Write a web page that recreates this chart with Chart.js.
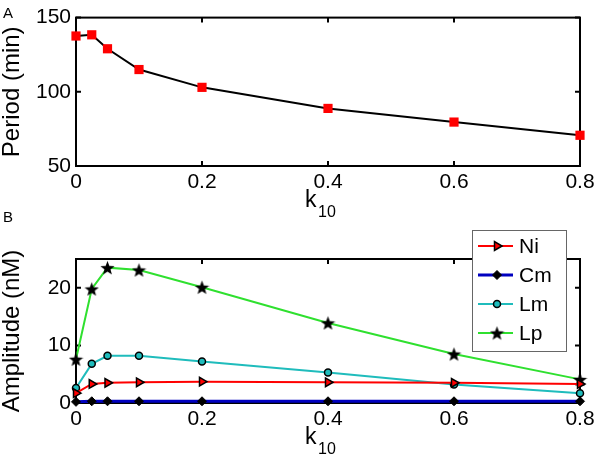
<!DOCTYPE html>
<html>
<head>
<meta charset="utf-8">
<script src="https://cdn.jsdelivr.net/npm/chart.js@4.4.1/dist/chart.umd.min.js"></script>
<style>
  html, body { margin: 0; padding: 0; background: #fff; }
  #wrapA { position: absolute; left: 0; top: 0; width: 600px; height: 225px; }
  #wrapB { position: absolute; left: 0; top: 200px; width: 600px; height: 263px; }
</style>
</head>
<body>
<div id="wrapA"><canvas id="chartA"></canvas></div>
<div id="wrapB"><canvas id="chartB"></canvas></div>
<script>
const k10 = [0, 0.025, 0.05, 0.1, 0.2, 0.4, 0.6, 0.8]
const period = [137.6, 138.4, 129, 115, 103, 88.8, 79.6, 70.7]
const ampNi = [1.7, 3.3, 3.5, 3.6, 3.7, 3.6, 3.5, 3.3]
const ampCm = [0.2, 0.3, 0.3, 0.3, 0.3, 0.3, 0.3, 0.3]
const ampLm = [2.6, 6.8, 8.2, 8.2, 7.2, 5.3, 3.2, 1.7]
const ampLp = [7.6, 19.8, 23.5, 23.1, 20.1, 13.9, 8.5, 4.1]
const seriesNames = ['Ni', 'Cm', 'Lm', 'Lp']
const xTicks = [0, 0.2, 0.4, 0.6, 0.8]
const periodTicks = [50, 100, 150]
const ampTicks = [0, 10, 20]

const FONT = 'Arial, "Liberation Sans", Helvetica, sans-serif'

// filled five point star, used as a point image
function makeStar(size) {
  const c = document.createElement('canvas')
  c.width = c.height = size
  const g = c.getContext('2d')
  const r = size / 2, ri = r * 0.42, cy = r + r * 0.1
  g.beginPath()
  for (let i = 0; i < 10; i++) {
    const ang = -Math.PI / 2 + i * Math.PI / 5
    const rr = i % 2 ? ri : r
    g.lineTo(r + rr * Math.cos(ang), cy + rr * Math.sin(ang))
  }
  g.closePath()
  g.fillStyle = '#000'
  g.fill()
  return c
}
const star = makeStar(15)

const pts = (ys) => k10.map((x, i) => ({ x: x, y: ys[i] }))

// box, inward ticks, k10 title, panel letter
const matlabAxes = {
  id: 'matlabAxes',
  beforeDatasetsDraw(chart) {
    const { ctx, chartArea: a, scales: { x, y } } = chart
    ctx.save()
    ctx.strokeStyle = '#000'
    ctx.lineWidth = 2
    ctx.strokeRect(a.left, a.top, a.right - a.left, a.bottom - a.top)
    ctx.beginPath()
    x.ticks.forEach(t => {
      const px = x.getPixelForValue(t.value)
      ctx.moveTo(px, a.bottom); ctx.lineTo(px, a.bottom - 5)
      ctx.moveTo(px, a.top); ctx.lineTo(px, a.top + 5)
    })
    y.ticks.forEach(t => {
      const py = y.getPixelForValue(t.value)
      ctx.moveTo(a.left, py); ctx.lineTo(a.left + 5, py)
      ctx.moveTo(a.right, py); ctx.lineTo(a.right - 5, py)
    })
    ctx.stroke()
    ctx.restore()
  },
  afterDraw(chart, args, opts) {
    const { ctx, chartArea: a } = chart
    ctx.save()
    ctx.fillStyle = '#000'
    ctx.textBaseline = 'alphabetic'
    ctx.textAlign = 'left'
    ctx.font = '23px ' + FONT
    ctx.fillText('k', 305, a.bottom + 41)
    ctx.font = '16px ' + FONT
    ctx.fillText('10', 318, a.bottom + 51)
    ctx.font = '15px ' + FONT
    ctx.fillText(opts.letter, 3, opts.letterY)
    ctx.restore()
  }
}

const boxLegend = {
  id: 'boxLegend',
  afterDraw(chart) {
    if (!chart.options.plugins.boxLegend.show) return
    const { ctx, chartArea: a } = chart
    const x0 = a.right - 108, y0 = a.top - 29, w = 94, h = 121
    ctx.save()
    ctx.fillStyle = '#fff'
    ctx.fillRect(x0, y0, w, h)
    ctx.strokeStyle = '#666'
    ctx.lineWidth = 1
    ctx.strokeRect(x0 + 0.5, y0 + 0.5, w, h)
    chart.data.datasets.forEach((ds, i) => {
      const cy = y0 + 16 + i * 29
      ctx.strokeStyle = ds.borderColor
      ctx.lineWidth = ds.borderWidth
      ctx.beginPath()
      ctx.moveTo(x0 + 6, cy); ctx.lineTo(x0 + 41, cy)
      ctx.stroke()
      ctx.fillStyle = ds.pointBackgroundColor
      ctx.strokeStyle = ds.pointBorderColor
      ctx.lineWidth = ds.pointBorderWidth
      Chart.helpers.drawPoint(ctx, {
        pointStyle: ds.pointStyle, radius: ds.pointRadius,
        rotation: ds.pointRotation || 0, borderWidth: ds.pointBorderWidth
      }, x0 + 25, cy)
      ctx.fillStyle = '#000'
      ctx.font = '21px ' + FONT
      ctx.textBaseline = 'middle'
      ctx.fillText(ds.label, x0 + 47, cy + 1)
    })
    ctx.restore()
  }
}

function xScale(bottomHeight) {
  return {
    type: 'linear', min: 0, max: 0.8,
    afterBuildTicks: s => { s.ticks = xTicks.map(v => ({ value: v })) },
    afterFit: s => { s.height = bottomHeight },
    grid: { display: false, drawTicks: false },
    border: { display: false },
    ticks: { color: '#000', padding: 4, font: { family: FONT, size: 21 }, callback: v => String(v) }
  }
}
function yScale(min, max, ticks, title) {
  return {
    type: 'linear', min: min, max: max,
    afterBuildTicks: s => { s.ticks = ticks.map(v => ({ value: v })) },
    afterFit: s => { s.width = 76 },
    grid: { display: false, drawTicks: false },
    border: { display: false },
    ticks: { color: '#000', padding: 5, font: { family: FONT, size: 21 } },
    title: { display: true, text: title, color: '#000', padding: 0, font: { family: FONT, size: 24, lineHeight: 1 } }
  }
}

new Chart(document.getElementById('chartA'), {
  type: 'line',
  data: {
    datasets: [{
      label: 'Period',
      data: pts(period),
      borderColor: '#000',
      borderWidth: 2,
      tension: 0,
      pointStyle: 'rect',
      pointRadius: 6.5,
      pointBackgroundColor: '#ff0000',
      pointBorderColor: '#ff0000',
      pointBorderWidth: 0,
      clip: false
    }]
  },
  options: {
    animation: false,
    responsive: true,
    maintainAspectRatio: false,
    layout: { padding: { top: 13, right: 20, left: 0, bottom: 0 } },
    scales: { x: xScale(59), y: yScale(50, 150, periodTicks, 'Period (min)') },
    plugins: {
      legend: { display: false },
      tooltip: { enabled: false },
      matlabAxes: { letter: 'A', letterY: 18 },
      boxLegend: { show: false }
    }
  },
  plugins: [matlabAxes, boxLegend]
})

new Chart(document.getElementById('chartB'), {
  type: 'line',
  data: {
    datasets: [
      { label: seriesNames[0], data: pts(ampNi), borderColor: '#ff0000', borderWidth: 2,
        pointStyle: 'triangle', pointRotation: 90, pointRadius: 5,
        pointBackgroundColor: '#ff0000', pointBorderColor: '#000', pointBorderWidth: 1.5 },
      { label: seriesNames[1], data: pts(ampCm), borderColor: '#0000c0', borderWidth: 3,
        pointStyle: 'rectRot', pointRadius: 4.5,
        pointBackgroundColor: '#000', pointBorderColor: '#000', pointBorderWidth: 1 },
      { label: seriesNames[2], data: pts(ampLm), borderColor: '#1fbcbc', borderWidth: 2,
        pointStyle: 'circle', pointRadius: 3.5,
        pointBackgroundColor: '#1fbcbc', pointBorderColor: '#000', pointBorderWidth: 1.5 },
      { label: seriesNames[3], data: pts(ampLp), borderColor: '#2fe02f', borderWidth: 2,
        pointStyle: star, pointRadius: 7,
        pointBackgroundColor: '#000', pointBorderColor: '#000', pointBorderWidth: 1 }
    ].map(d => Object.assign(d, { tension: 0, clip: false }))
  },
  options: {
    animation: false,
    responsive: true,
    maintainAspectRatio: false,
    layout: { padding: { top: 59, right: 20, left: 0, bottom: 0 } },
    scales: { x: xScale(60), y: yScale(0, 25, ampTicks, 'Amplitude (nM)') },
    plugins: {
      legend: { display: false },
      tooltip: { enabled: false },
      matlabAxes: { letter: 'B', letterY: 22 },
      boxLegend: { show: true }
    }
  },
  plugins: [matlabAxes, boxLegend]
})
</script>
</body>
</html>
